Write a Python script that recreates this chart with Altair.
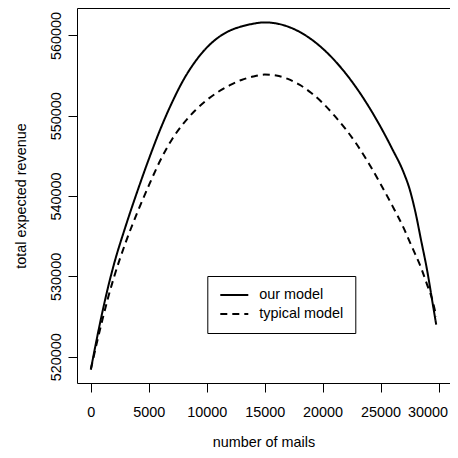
import altair as alt
import pandas as pd

mails = [0, 500, 1000, 1500, 2000, 3000, 4000, 5000, 6000, 7000, 8000, 9000, 10000,
         11000, 12000, 13000, 14000, 15000, 16000, 17000, 18000, 19000, 20000,
         21000, 22000, 23000, 24000, 25000, 26000, 27000, 27500, 28000, 28500,
         29000, 29500, 29800]

our_model = [518400, 522100, 525575, 528725, 531525, 536225, 540525, 544575, 548325,
             551625, 554475, 556725, 558475, 559745, 560595, 561115, 561450, 561620,
             561490, 561100, 560450, 559540, 558370, 556940, 555250, 553300, 551090,
             548620, 545890, 542900, 540900, 538050, 534480, 530900, 526600, 524000]

typical_model = [518400, 521600, 524600, 527400, 529900, 534200, 537900, 541300, 544450,
                 547050, 549050, 550650, 551950, 552980, 553800, 554450, 554880, 555120,
                 555000, 554580, 553860, 552870, 551590, 550040, 548310, 546320, 544030,
                 541500, 538840, 536000, 534360, 532740, 531060, 529030, 526920, 525000]

series_names = ["our model", "typical model"]
x_ticks = [0, 5000, 10000, 15000, 20000, 25000, 30000]
y_ticks = [520000, 530000, 540000, 550000, 560000]

rows = []
for name, vals in zip(series_names, [our_model, typical_model]):
    for m, v in zip(mails, vals):
        rows.append({"mails": m, "revenue": v, "model": name})
df = pd.DataFrame(rows)

FONT = "Liberation Sans"
FS = 14.4
W, H = 373, 375

chart = alt.Chart(df).mark_line(color="black", strokeWidth=2, interpolate="monotone").encode(
    x=alt.X("mails:Q",
            scale=alt.Scale(domain=[-1192, 30992], nice=False, zero=False),
            axis=alt.Axis(values=x_ticks, title="number of mails", format="d",
                          tickSize=9, labelPadding=13, domain=False, grid=False,
                          labelOffset={"condition": {"test": "datum.value == 30000", "value": -11},
                                       "value": 0},
                          titleX=W / 2, titleY=63, titleBaseline="alphabetic",
                          titleAlign="center")),
    y=alt.Y("revenue:Q",
            scale=alt.Scale(domain=[516725, 563412], nice=False, zero=False),
            axis=alt.Axis(values=y_ticks, title="total expected revenue", format="d",
                          tickSize=9, labelPadding=8, labelAngle=270,
                          labelAlign="center", labelBaseline="alphabetic",
                          domain=False, grid=False,
                          titleX=-52, titleY=H / 2, titleAngle=270,
                          titleBaseline="alphabetic", titleAlign="center")),
    strokeDash=alt.StrokeDash("model:N",
                              scale=alt.Scale(domain=series_names, range=[[1, 0], [7, 5]]),
                              legend=alt.Legend(orient="none", legendX=130.3, legendY=268,
                                                title=None, strokeColor="black",
                                                fillColor="white", padding=12,
                                                symbolType="stroke", symbolSize=784,
                                                symbolStrokeWidth=2,
                                                symbolStrokeColor="black",
                                                labelFont=FONT, labelFontSize=FS,
                                                labelColor="black", labelOffset=10,
                                                clipHeight=14, rowPadding=4)),
).properties(
    width=W, height=H,
    autosize=alt.AutoSizeParams(type="none"),
    padding={"left": 69, "top": 0, "right": 0, "bottom": 67},
).configure(
    background="white"
).configure_view(
    stroke="black", strokeWidth=1
).configure_axis(
    labelFont=FONT, labelFontSize=FS, labelColor="black",
    titleFont=FONT, titleFontSize=FS, titleFontWeight="normal", titleColor="black",
    tickColor="black", tickWidth=1,
)

chart.save("out.html", embed_options={"renderer": "svg", "actions": False})
